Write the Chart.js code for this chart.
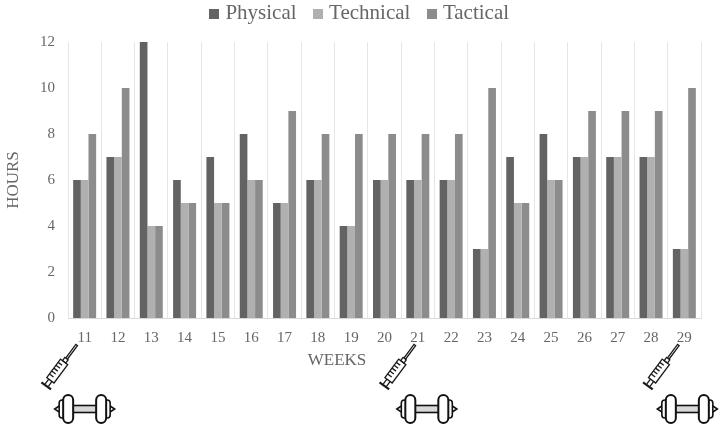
<!DOCTYPE html>
<html>
<head>
<meta charset="utf-8">
<script src="https://cdn.jsdelivr.net/npm/chart.js@4"></script>
<style>
  html, body { margin: 0; padding: 0; background: #fff; }
  #wrap { width: 721px; height: 428px; }
</style>
</head>
<body>
<div id="wrap"><canvas id="chart" width="721" height="428"></canvas></div>
<script>
const weeks = ['11','12','13','14','15','16','17','18','19','20','21','22','23','24','25','26','27','28','29'];
const physical = [6,7,12,6,7,8,5,6,4,6,6,6,3,7,8,7,7,7,3];
const technical = [6,7,4,5,5,6,5,6,4,6,6,6,3,5,6,7,7,7,3];
const tactical = [8,10,4,5,5,6,9,8,8,8,8,8,10,5,6,9,9,9,10];
const iconWeeks = ['11','21','29'];

const textColor = '#666666';
const fontName = '"Liberation Serif", serif';

// syringe, origin at the needle tip, barrel runs down local y
function drawSyringe(ctx, x, y) {
    ctx.save();
    ctx.translate(x, y);
    ctx.rotate(0.64);
    ctx.strokeStyle = '#1a1a1a';
    ctx.fillStyle = '#fff';
    ctx.lineWidth = 1.3;
    ctx.strokeRect(-1, 0, 2, 17);
    ctx.fillRect(-2, 17, 4, 4);
    ctx.strokeRect(-2, 17, 4, 4);
    ctx.strokeRect(-4.5, 21, 9, 23);
    ctx.beginPath();
    for (let i = 0; i < 5; i++) {
        ctx.moveTo(-4.5, 25 + i * 3.6);
        ctx.lineTo(0.5, 25 + i * 3.6);
    }
    ctx.moveTo(-2, 44);
    ctx.lineTo(-2, 50);
    ctx.moveTo(2, 44);
    ctx.lineTo(2, 50);
    ctx.stroke();
    ctx.lineWidth = 2.2;
    ctx.beginPath();
    ctx.moveTo(-6, 51);
    ctx.lineTo(6, 51);
    ctx.stroke();
    ctx.restore();
}

function drawDumbbell(ctx, x, y) {
    ctx.save();
    ctx.translate(x, y);
    ctx.strokeStyle = '#111';
    ctx.lineWidth = 1.6;
    ctx.fillStyle = '#d8d8d8';
    ctx.fillRect(-12, -3.5, 24, 7);
    ctx.strokeRect(-12, -3.5, 24, 7);
    [-1, 1].forEach(side => {
        ctx.fillStyle = '#fff';
        // pointed end cap
        ctx.beginPath();
        ctx.moveTo(side * 24, -4);
        ctx.lineTo(side * 30, 0);
        ctx.lineTo(side * 24, 4);
        ctx.closePath();
        ctx.fill();
        ctx.stroke();
        // small outer plate
        ctx.beginPath();
        ctx.roundRect(side * 22.5 - 3, -9, 6, 18, 3);
        ctx.fill();
        ctx.stroke();
        // big inner plate
        ctx.lineWidth = 2;
        ctx.beginPath();
        ctx.roundRect(side * 16.5 - 5, -14, 10, 28, 5);
        ctx.fill();
        ctx.stroke();
        ctx.lineWidth = 1.6;
    });
    ctx.restore();
}

// legend marker as a small canvas, so it can sit close to its text
function legendMarker(color) {
    const c = document.createElement('canvas');
    c.width = 10;
    c.height = 10;
    const g = c.getContext('2d');
    g.fillStyle = color;
    g.fillRect(0, 0, 10, 10);
    return c;
}

// icon offsets from the week's tick, as placed in the figure
const syringeShift = [-8, -3, -6];
const dumbbellShift = [0, 9, 3];

const iconPlugin = {
    id: 'icons',
    beforeInit(chart) {
        const legend = chart.legend;
        const fit = legend.fit;
        const draw = legend.draw;
        // the wide item gap also sets the row padding, so take that back here
        legend.fit = function () {
            fit.call(this);
            this.height -= 10;
        };
        legend.draw = function () {
            this.ctx.save();
            this.ctx.translate(11, -18);
            draw.call(this);
            this.ctx.restore();
        };
    },
    afterDraw(chart) {
        const xScale = chart.scales.x;
        const ctx = chart.ctx;
        iconWeeks.forEach((w, i) => {
            const cx = xScale.getPixelForValue(weeks.indexOf(w));
            drawSyringe(ctx, cx + syringeShift[i], 345);
            drawDumbbell(ctx, cx + dumbbellShift[i], 409);
        });
        // axis title sits left of the plot centre in the figure
        ctx.save();
        ctx.fillStyle = textColor;
        ctx.font = '17px ' + fontName;
        ctx.textAlign = 'center';
        ctx.textBaseline = 'middle';
        ctx.fillText('WEEKS', 337, 361);
        ctx.restore();
    }
};

new Chart(document.getElementById('chart'), {
    type: 'bar',
    data: {
        labels: weeks,
        datasets: [
            { label: 'Physical', data: physical, backgroundColor: '#636363' },
            { label: 'Technical', data: technical, backgroundColor: '#b0b0b0' },
            { label: 'Tactical', data: tactical, backgroundColor: '#8c8c8c' }
        ]
    },
    options: {
        responsive: false,
        animation: false,
        layout: { padding: { left: 0, right: 20, top: 0, bottom: 0 } },
        datasets: { bar: { categoryPercentage: 0.69, barPercentage: 1 } },
        plugins: {
            tooltip: { enabled: false },
            legend: {
                position: 'top',
                labels: {
                    color: textColor,
                    font: { family: fontName, size: 21 },
                    usePointStyle: true,
                    pointStyleWidth: 1,
                    padding: 21,
                    generateLabels(chart) {
                        return Chart.defaults.plugins.legend.labels.generateLabels(chart).map(item => {
                            item.pointStyle = legendMarker(item.fillStyle);
                            return item;
                        });
                    }
                }
            }
        },
        scales: {
            x: {
                afterFit(scale) { scale.height = 110; },
                grid: { color: '#e6e6e6', drawTicks: false },
                border: { color: '#d9d9d9' },
                ticks: { color: textColor, font: { family: fontName, size: 15 }, padding: 11, maxRotation: 0 }
            },
            y: {
                min: 0,
                max: 12,
                afterFit(scale) { scale.width = 68; },
                grid: { display: false },
                border: { display: false },
                ticks: { stepSize: 2, color: textColor, font: { family: fontName, size: 15 }, padding: 5 },
                title: { display: true, text: 'HOURS', color: textColor, font: { family: fontName, size: 17 }, padding: { top: 3, bottom: 0 } }
            }
        }
    },
    plugins: [iconPlugin]
});
</script>
</body>
</html>
